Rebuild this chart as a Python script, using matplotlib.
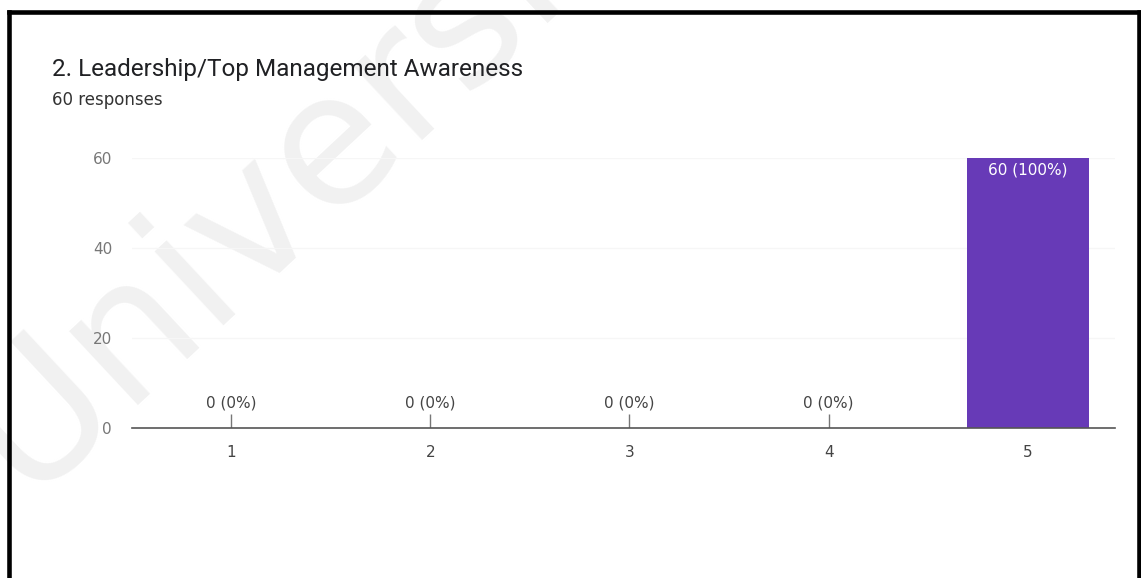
import matplotlib
matplotlib.use('Agg')
import matplotlib.pyplot as plt
from matplotlib.lines import Line2D
import numpy as np

plt.rcParams['font.family'] = ['DejaVu Sans']

# survey answers on a 1..5 scale
categories = ['1', '2', '3', '4', '5']
counts = [0, 0, 0, 0, 60]
total = 60
title = '2. Leadership/Top Management Awareness'
subtitle = '60 responses'
yticks = [0, 20, 40, 60]

purple = '#673ab7'
grey_txt = '#444444'
W, H = 1141, 578

fig = plt.figure(figsize=(W / 100, H / 100), dpi=100)
fig.patch.set_facecolor('white')

# faint watermark behind everything
fig.text(24 / W, 1 - 497 / H, 'Universiti', fontsize=132, color='#f1f1f1', rotation=43,
         rotation_mode='anchor', ha='left', va='baseline', zorder=-5)

ax = fig.add_axes([132 / W, 1 - 428 / H, (1115 - 132) / W, (428 - 158) / H])
ax.set_facecolor('none')
x = np.arange(1, len(categories) + 1)

ax.bar(x, counts, width=0.61, color=purple, zorder=3)
ax.set_xlim(0.503, 5.437)
ax.set_ylim(0, 60)

for xi, c in zip(x, counts):
    pct = '{} ({:.0f}%)'.format(c, 100.0 * c / total)
    if c == 0:
        # tiny stub marks the empty bars
        ax.vlines(xi, 0, 3.1, color='#777777', lw=1, zorder=3)
        ax.text(xi, 5.6, pct, ha='center', va='center', fontsize=11, color=grey_txt)
    else:
        ax.text(xi, c - 2.7, pct, ha='center', va='center', fontsize=11, color='white', zorder=4)

ax.set_yticks(yticks)
ax.set_yticklabels([str(t) for t in yticks], fontsize=11, color='#777777')
ax.set_xticks(x)
ax.set_xticklabels(categories, fontsize=11, color=grey_txt)
ax.tick_params(axis='both', length=0)
ax.tick_params(axis='y', pad=14.4)
ax.tick_params(axis='x', pad=12)
ax.grid(axis='y', color='#f6f6f6', lw=1, zorder=0)
for s in ['top', 'right', 'left']:
    ax.spines[s].set_visible(False)
ax.spines['bottom'].set_color('#555555')
ax.spines['bottom'].set_linewidth(1.2)
ax.spines['bottom'].set_zorder(5)

fig.text(52 / W, 1 - 76 / H, title, fontsize=17.5, color='#202124', ha='left', va='baseline',
         family=['Roboto', 'DejaVu Sans'])
fig.text(52 / W, 1 - 105 / H, subtitle, fontsize=12, color='#333333', ha='left', va='baseline')

# black frame on top, left and right
top, left, right = 1 - 12 / H, 9 / W, 1139 / W
for xs, ys in [([left, right], [top, top]), ([left, left], [0.0, top]), ([right, right], [0.0, top])]:
    fig.add_artist(Line2D(xs, ys, color='black', lw=3.3, transform=fig.transFigure))

fig.savefig('out.png', dpi=100, facecolor='white')
